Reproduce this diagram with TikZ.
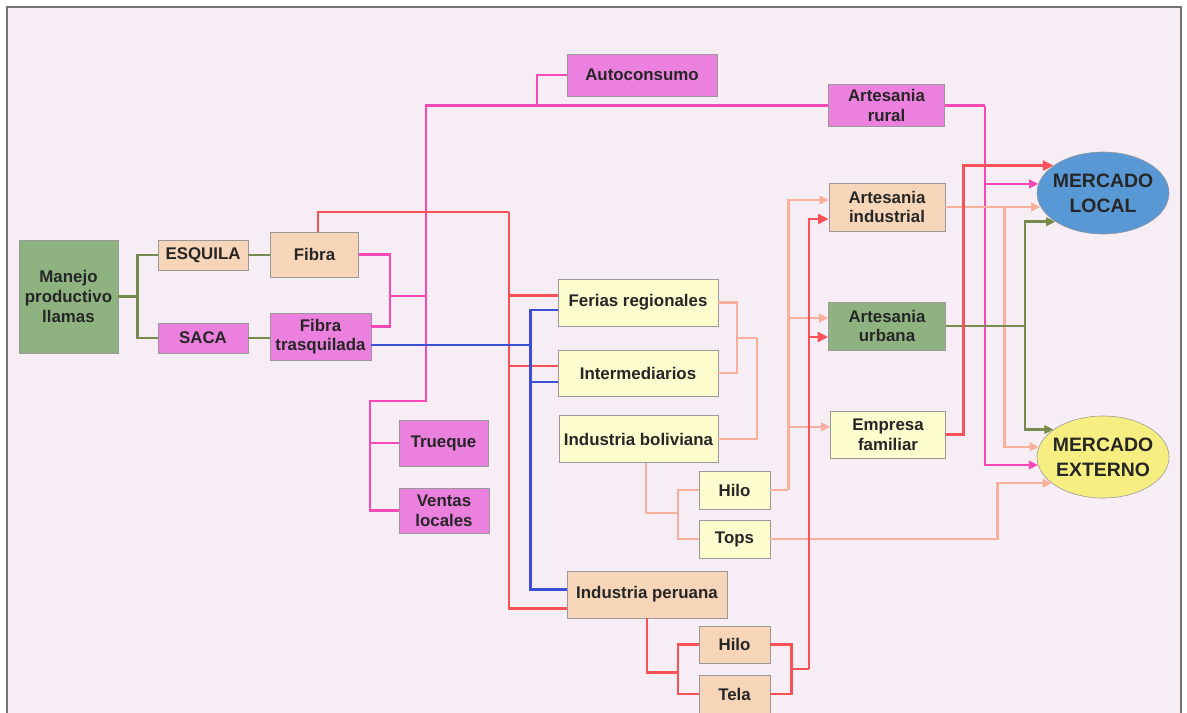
\documentclass[tikz,border=0pt]{standalone}
\usepackage{fontspec}
\setmainfont{Liberation Sans}
\usepackage{xcolor}
\usetikzlibrary{shapes.geometric,arrows.meta,positioning}
\definecolor{bgpink}{RGB}{246,237,245}
\definecolor{framegray}{RGB}{115,115,115}
\definecolor{textgray}{RGB}{38,38,38}
\definecolor{boxgreen}{RGB}{143,179,128}
\definecolor{boxpeach}{RGB}{246,213,184}
\definecolor{boxpink}{RGB}{236,128,222}
\definecolor{boxyellow}{RGB}{252,252,206}
\definecolor{ellblue}{RGB}{88,152,212}
\definecolor{ellyellow}{RGB}{246,238,128}
\definecolor{lgreen}{RGB}{118,140,78}
\definecolor{lmag}{RGB}{246,72,182}
\definecolor{lred}{RGB}{248,82,88}
\definecolor{lsal}{RGB}{248,176,156}
\definecolor{lblue}{RGB}{60,78,212}

\begin{document}
\begin{tikzpicture}[
  x=0.025cm, y=-0.025cm,
  %% styles
  box/.style={rectangle, draw=black!40, fill=#1, inner sep=2pt,
              align=center, text=textgray,
              font=\fontsize{12}{13.9}\selectfont\bfseries},
  mkt/.style={ellipse, draw=black!40, fill=#1, inner sep=0pt,
              minimum width=3.3cm, minimum height=2.05cm},
  mlbl/.style={align=center, text=textgray,
               font=\fontsize{13.8}{18}\selectfont\bfseries},
  ln/.style={draw=#1, line width=1.75pt},
  lnar/.style={ln=#1, -{Triangle[length=6.5pt,width=6pt]}},
  lnred/.style={draw=lred, line width=2.1pt,
                -{Triangle[length=7.5pt,width=7pt]}},
]

%% ------ page + frame -------------------------------------------------
\useasboundingbox (0,0) rectangle (1187,712);
\fill[white] (0,0) rectangle (1187,712);
\draw[draw=framegray, line width=1.1pt, fill=bgpink] (7,7) rectangle (1181,740);

%% ------ elements -----------------------------------------------------

%% origin
\node[box=boxgreen, minimum width=2.475cm, minimum height=2.825cm] (manejo)
  at (68.5,296.5) {Manejo\\productivo\\llamas};
\node[box=boxpeach, minimum width=2.25cm, minimum height=0.75cm] (esquila)
  at (203,255) {ESQUILA};
\node[box=boxpink, minimum width=2.25cm, minimum height=0.75cm] (saca)
  at (203,338) {SACA};
\node[box=boxpeach, minimum width=2.2cm, minimum height=1.125cm] (fibra)
  at (314.5,254.5) {Fibra};
\node[box=boxpink, minimum width=2.525cm, minimum height=1.175cm] (fibratr)
  at (320.5,336.5) {Fibra\\trasquilada};

%% pink destinations
\node[box=boxpink, minimum width=3.75cm, minimum height=1.05cm] (autocons)
  at (642,75) {Autoconsumo};
\node[box=boxpink, minimum width=2.9cm, minimum height=1.05cm] (artrural)
  at (886.5,105.5) {Artesania\\rural};
\node[box=boxpink, minimum width=2.225cm, minimum height=1.15cm] (trueque)
  at (443.5,443) {Trueque};
\node[box=boxpink, minimum width=2.25cm, minimum height=1.125cm] (ventas)
  at (444,510.5) {Ventas\\locales};

%% buyers
\node[box=boxyellow, minimum width=4cm, minimum height=1.175cm] (ferias)
  at (638,302.5) {Ferias regionales};
\node[box=boxyellow, minimum width=4cm, minimum height=1.15cm] (interm)
  at (638,373) {Intermediarios};
\node[box=boxyellow, minimum width=3.975cm, minimum height=1.175cm] (indbol)
  at (638.5,439) {Industria boliviana};
\node[box=boxyellow, minimum width=1.775cm, minimum height=0.95cm] (hilob)
  at (734.5,490) {Hilo};
\node[box=boxyellow, minimum width=1.775cm, minimum height=0.95cm] (tops)
  at (734.5,539) {Tops};
\node[box=boxpeach, minimum width=4cm, minimum height=1.175cm] (indper)
  at (647,594.5) {Industria peruana};
\node[box=boxpeach, minimum width=1.775cm, minimum height=0.925cm] (hilop)
  at (734.5,644.5) {Hilo};
\node[box=boxpeach, minimum width=1.775cm, minimum height=0.95cm] (tela)
  at (734.5,694) {Tela};

%% processors
\node[box=boxpeach, minimum width=2.9cm, minimum height=1.2cm] (artind)
  at (887,207) {Artesania\\industrial};
\node[box=boxgreen, minimum width=2.925cm, minimum height=1.2cm] (arturb)
  at (887,326) {Artesania\\urbana};
\node[box=boxyellow, minimum width=2.875cm, minimum height=1.175cm] (empfam)
  at (888,434.5) {Empresa\\familiar};

%% markets
\node[mkt=ellblue, label={[mlbl]center:{MERCADO\\LOCAL}}] (mloc)
  at (1103,193) {};
\node[mkt=ellyellow, label={[mlbl]center:{MERCADO\\EXTERNO}}] (mext)
  at (1103,457) {};

%% ------ connectors ---------------------------------------------------

%% green: shearing
\draw[ln=lgreen] (manejo.east) -- ++(19,0) coordinate (gj);
\draw[ln=lgreen] (esquila.west) -| (gj) |- (saca.west);
\draw[ln=lgreen] (esquila.east) -- (esquila.east -| fibra.west);
\draw[ln=lgreen] (saca.east) -- (saca.east -| fibratr.west);

%% magenta: own use
\coordinate (mj)   at (390,296);
\coordinate (mtop) at (426,105.5);
\coordinate (mbot) at (426,401);
\coordinate (mlow) at (370,401);
\coordinate (ma)   at (537,105.5);
\draw[ln=lmag] (fibra.east) -| (mj);
\draw[ln=lmag] ([yshift=0.25cm]fibratr.east) -| (mj);
\draw[ln=lmag] (mj) -- (mj -| mtop);
\draw[ln=lmag] (artrural.west) -- (mtop) -- (mbot) -- (mlow) |- (ventas.west);
\draw[ln=lmag] (trueque.west) -- (trueque.west -| mlow);
\draw[ln=lmag] (autocons.west) -| (ma);

%% red: fibra to buyers
\coordinate (rt) at (509,212);
\draw[ln=lred] ([xshift=0.09cm]fibra.north) |- (rt);
\foreach \t/\s in {ferias/0.175, interm/0.175, indper/-0.35}
  \draw[ln=lred] (rt) |- ([yshift=\s cm]\t.west);

%% blue: fibra trasquilada to buyers
\draw[ln=lblue] ([yshift=-0.21cm]fibratr.east) -- ++(159,0) coordinate (bj);
\foreach \t/\s in {ferias/-0.19, interm/-0.225, indper/0.125}
  \draw[ln=lblue] (bj) |- ([yshift=\s cm]\t.west);

%% salmon: bolivian side
\coordinate (sa) at (737,338);
\coordinate (sc) at (678,513);
\draw[ln=lsal] (ferias.east) -| (sa);
\draw[ln=lsal] (interm.east) -| (sa);
\draw[ln=lsal] (sa) -- ++(20,0) coordinate (sb);
\draw[ln=lsal] (indbol.east) -| (sb);
\draw[ln=lsal] ([xshift=0.19cm]indbol.south) |- (sc);
\draw[ln=lsal] (hilob.west) -| (sc) |- (tops.west);
\draw[ln=lsal] (hilob.east) -- ++(18,0) coordinate (sv);
\draw[lnar=lsal] (sv) |- ([yshift=0.175cm]artind.west);
\draw[lnar=lsal] (sv) |- ([yshift=0.2cm]arturb.west);
\draw[lnar=lsal] (sv) |- ([yshift=0.19cm]empfam.west);
\draw[lnar=lsal] (tops.east) -- ++(227,0) |- (mext.207);

%% red: peruvian side
\coordinate (rq) at (791,669);
\draw[ln=lred] (indper.south) |- ++(31,54) coordinate (rp);
\draw[ln=lred] (hilop.west) -| (rp) |- (tela.west);
\draw[ln=lred] (hilop.east) -- ++(21,0) |- (tela.east);
\draw[ln=lred] (rq) -- ++(18,0) coordinate (rv);
\draw[lnred] (rv) |- ([yshift=-0.3cm]artind.west);
\draw[lnred] (rv) |- ([yshift=-0.275cm]arturb.west);

%% to the markets
\draw[ln=lmag] (artrural.east) -- ++(40,0) coordinate (mr);
\draw[lnar=lmag] (mr) |- (mloc.172);
\draw[lnar=lmag] (mr) |- (mext.187);
\draw[lnar=lsal] (artind.east) -- ++(59,0) coordinate (sr) -- (sr -| mloc.192.7);
\draw[lnar=lsal] (sr) |- (mext.171.1);
\draw[ln=lgreen] (arturb.east) -- ++(79,0) coordinate (gr);
\draw[lnar=lgreen] (gr) |- (mloc.211.8);
\draw[lnar=lgreen] (gr) |- (mext.151.5);
\draw[lnred] (empfam.east) -- ++(18,0) |- (mloc.151.5);

\end{tikzpicture}
\end{document}
